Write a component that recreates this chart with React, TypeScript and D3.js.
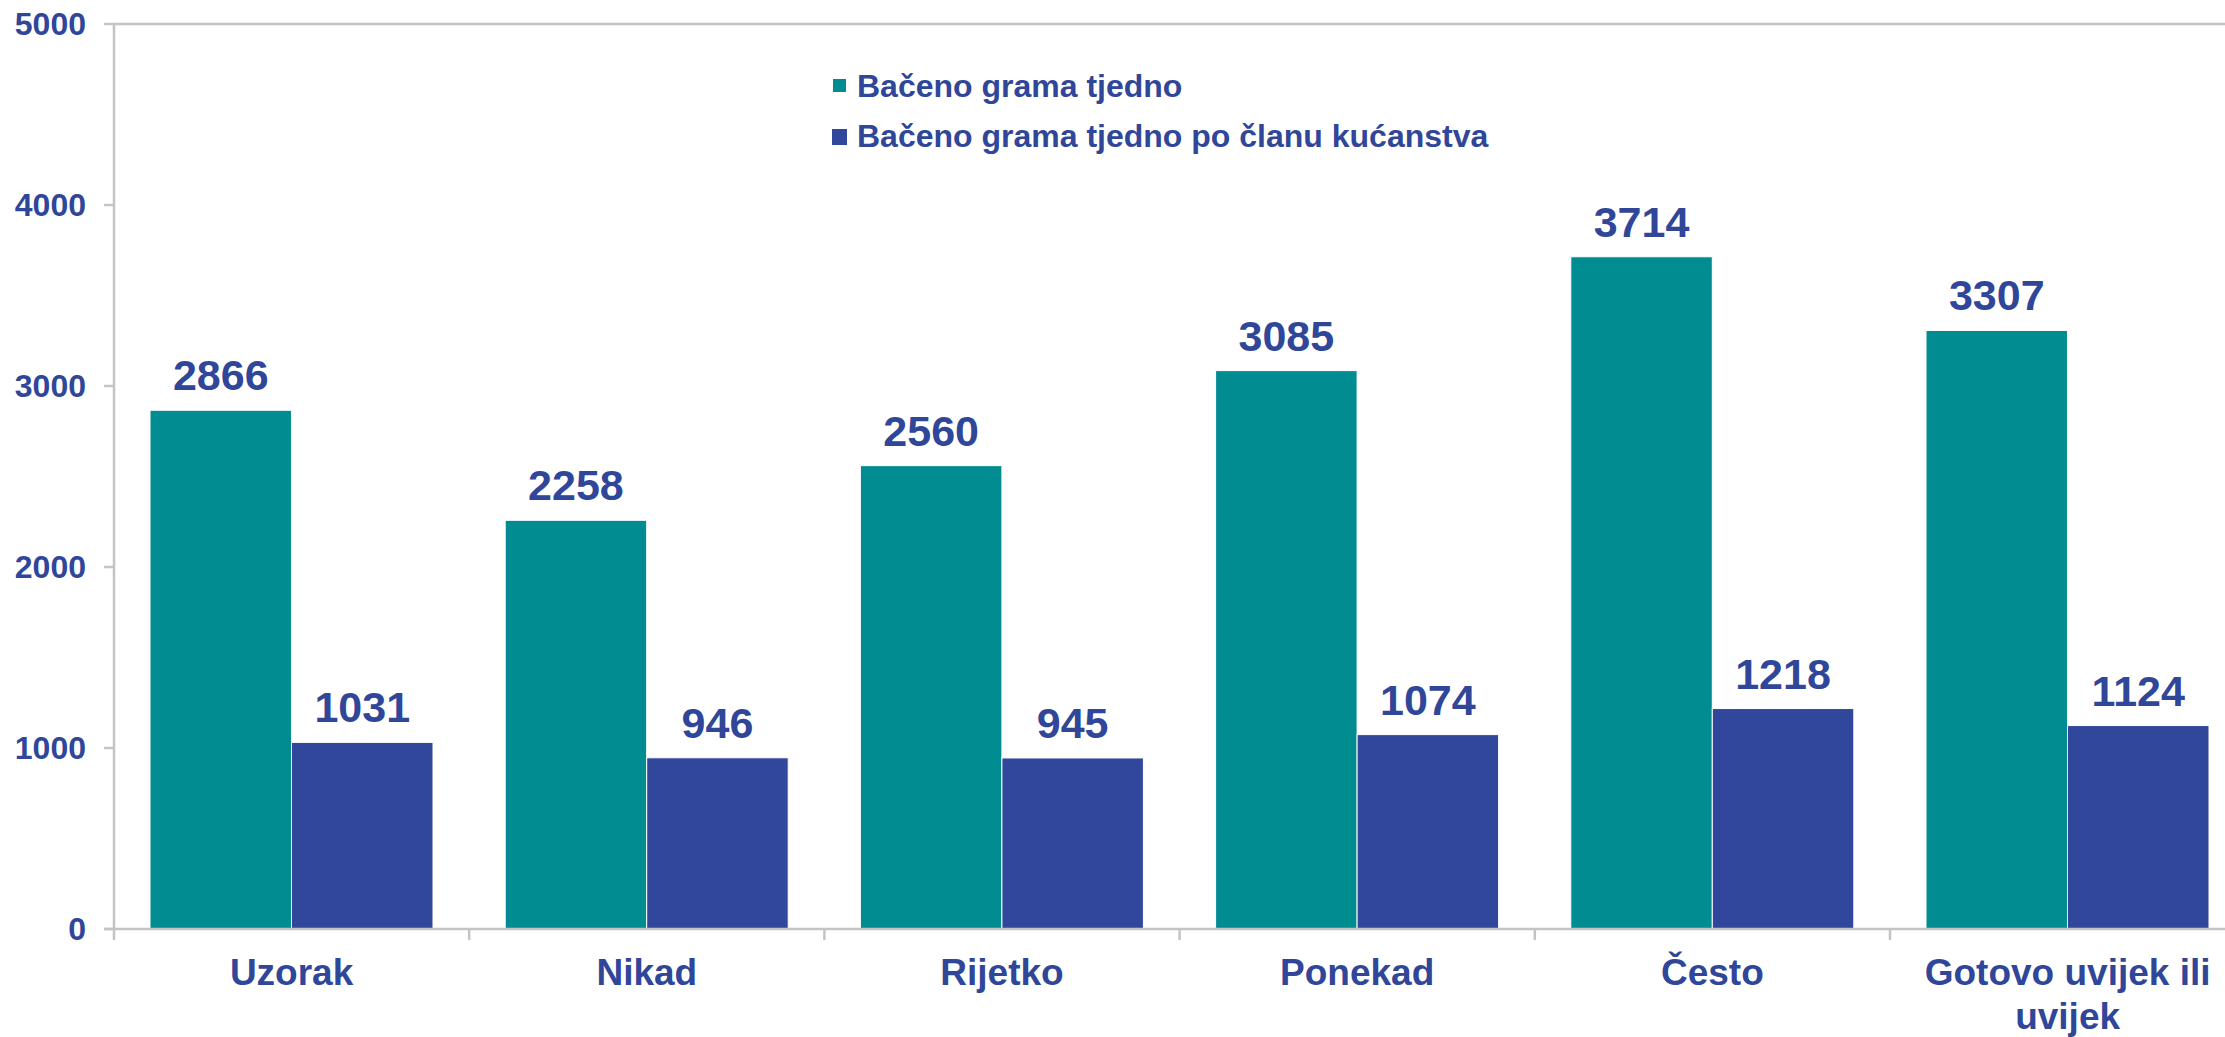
import React from "react";
import * as d3 from "d3";

const categories: string[][] = [
  ["Uzorak"],
  ["Nikad"],
  ["Rijetko"],
  ["Ponekad"],
  ["Često"],
  ["Gotovo uvijek ili", "uvijek"],
];
const seriesNames = ["Bačeno grama tjedno", "Bačeno grama tjedno po članu kućanstva"];
const gramsWeekly = [2866, 2258, 2560, 3085, 3714, 3307];
const gramsPerMember = [1031, 946, 945, 1074, 1218, 1124];
const yTicks = [0, 1000, 2000, 3000, 4000, 5000];

const W = 2225;
const H = 1037;
const TEXT = "#2F4699";
const COLORS = ["#008C91", "#30479B"];
const AXIS = "#C4C4C4";
const FONT = "'Liberation Sans', Arial, Helvetica, sans-serif";

export default function App() {
  const left = 114;
  const bandW = 355.2;
  const catKeys = categories.map((c) => c.join(" "));
  const x0 = d3
    .scaleBand<string>()
    .domain(catKeys)
    .range([left, left + bandW * catKeys.length])
    .paddingInner(0)
    .paddingOuter(0);
  const x1 = d3.scaleBand<string>().domain(seriesNames).range([36, 319]).padding(0);
  const y = d3.scaleLinear().domain([0, 5000]).range([929, 24]);
  const series = [gramsWeekly, gramsPerMember];
  const y0 = y(0);

  return (
    <div style={{ position: "absolute", left: 0, top: 0 }}>
      <svg width={W} height={H} style={{ display: "block", background: "#fff" }}>
        {/* plot frame */}
        <line x1={left} x2={W} y1={y(5000)} y2={y(5000)} stroke={AXIS} strokeWidth={2.5} />
        <line x1={left} x2={left} y1={y(5000)} y2={y0 + 11} stroke={AXIS} strokeWidth={2.5} />
        {/* bars */}
        {series.map((vals, si) =>
          vals.map((v, i) => (
            <rect
              key={`${si}-${i}`}
              x={(x0(catKeys[i]) as number) + (x1(seriesNames[si]) as number)}
              y={y(v)}
              width={x1.bandwidth()}
              height={y0 - y(v)}
              fill={COLORS[si]}
              stroke="#ffffff"
              strokeWidth={1}
            />
          ))
        )}
        {/* x axis */}
        <line x1={left - 10} x2={W} y1={y0} y2={y0} stroke={AXIS} strokeWidth={2.5} />
        {catKeys.map((k, i) => (
          <line
            key={`t${i}`}
            x1={(x0(k) as number) + bandW}
            x2={(x0(k) as number) + bandW}
            y1={y0}
            y2={y0 + 11}
            stroke={AXIS}
            strokeWidth={2.5}
          />
        ))}
        {/* y ticks */}
        {yTicks.map((t) => (
          <g key={`y${t}`}>
            <line x1={left - 10} x2={left} y1={y(t)} y2={y(t)} stroke={AXIS} strokeWidth={2.5} />
            <text
              x={86}
              y={y(t)}
              dy="0.35em"
              textAnchor="end"
              fontFamily={FONT}
              fontWeight="bold"
              fontSize={32}
              fill={TEXT}
            >
              {t}
            </text>
          </g>
        ))}
        {/* data labels */}
        {series.map((vals, si) =>
          vals.map((v, i) => (
            <text
              key={`l${si}-${i}`}
              x={(x0(catKeys[i]) as number) + (x1(seriesNames[si]) as number) + x1.bandwidth() / 2}
              y={y(v) - 20}
              textAnchor="middle"
              fontFamily={FONT}
              fontWeight="bold"
              fontSize={43}
              fill={TEXT}
            >
              {v}
            </text>
          ))
        )}
        {/* category labels */}
        {categories.map((lines, i) => (
          <text
            key={`c${i}`}
            x={(x0(catKeys[i]) as number) + bandW / 2}
            y={y0 + 56}
            textAnchor="middle"
            fontFamily={FONT}
            fontWeight="bold"
            fontSize={37}
            fill={TEXT}
          >
            {lines.map((ln, j) => (
              <tspan key={j} x={(x0(catKeys[i]) as number) + bandW / 2} dy={j === 0 ? 0 : 44}>
                {ln}
              </tspan>
            ))}
          </text>
        ))}
        {/* legend */}
        <rect x={833} y={79} width={13} height={13} fill={COLORS[0]} />
        <text x={857} y={97} fontFamily={FONT} fontWeight="bold" fontSize={32} fill={TEXT}>
          {seriesNames[0]}
        </text>
        <rect x={832} y={129} width={15} height={16} fill={COLORS[1]} />
        <text x={857} y={147} fontFamily={FONT} fontWeight="bold" fontSize={32} fill={TEXT}>
          {seriesNames[1]}
        </text>
      </svg>
    </div>
  );
}
